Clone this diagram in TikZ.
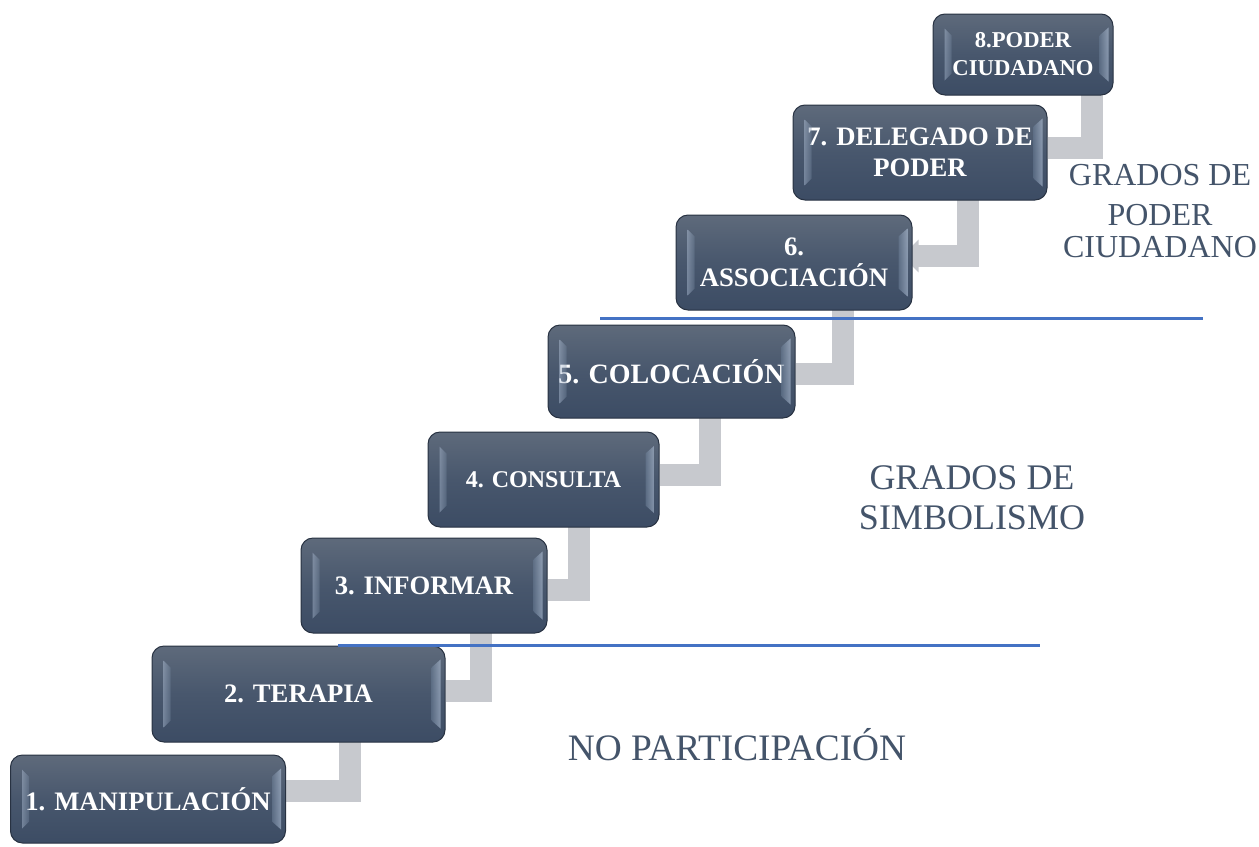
\documentclass[tikz,border=0pt]{standalone}
\usepackage{fontspec}
\setmainfont{Liberation Serif}
\usetikzlibrary{arrows.meta,backgrounds,calc}

\definecolor{stairgray}{RGB}{199,201,206}
\definecolor{divblue}{RGB}{68,114,196}
\definecolor{slatetext}{RGB}{68,84,106}
\definecolor{boxtop}{RGB}{94,106,123}
\definecolor{boxmid}{RGB}{72,87,109}
\definecolor{boxbot}{RGB}{60,76,100}
\definecolor{boxline}{RGB}{40,50,66}
\definecolor{bevelhi}{RGB}{190,206,228}
\definecolor{bevello}{RGB}{110,128,152}

\tikzset{every picture/.style={line width=0.75pt}}
\tikzset{
  stepbox/.style={draw=boxline, rounded corners=9pt, top color=boxtop, bottom color=boxbot, middle color=boxmid,
    text=white, align=center, inner sep=0pt, font=\bfseries\fontsize{20}{23}\selectfont},
  sized/.style 2 args={minimum width=#1*0.75pt, minimum height=#2*0.75pt},
  riser/.style={draw=stairgray, line width=17pt},
  gradetext/.style={text=slatetext, align=center, inner sep=0pt},
  divider/.style={draw=divblue, line width=2.25pt},
}

\begin{document}
\begin{tikzpicture}[x=0.75pt,y=0.75pt,yscale=-1,xscale=1]
\useasboundingbox (0,0) rectangle (1259,846);

% Steps
\node[stepbox, sized={275}{88}] (b1) at (148,799) {1. MANIPULACIÓN};
\node[stepbox, sized={293}{96}] (b2) at (298.5,694) {2. TERAPIA};
\node[stepbox, sized={246}{95}] (b3) at (424,585.5) {3. INFORMAR};
\node[stepbox, sized={231}{95}, font=\bfseries\fontsize{18}{22}\selectfont] (b4) at (543.5,479.5) {4. CONSULTA};
\node[stepbox, sized={247}{93}, font=\bfseries\fontsize{21}{24}\selectfont] (b5) at (671.5,371.5) {5. COLOCACIÓN};
\node[stepbox, sized={236}{95}] (b6) at (794,262.5) {6.\\ASSOCIACIÓN};
\node[stepbox, sized={254}{95}] (b7) at (920,152.5) {7. DELEGADO DE\\PODER};
\node[stepbox, sized={180}{81}, font=\bfseries\fontsize{17}{21}\selectfont] (b8) at (1023,54.5) {8.PODER\\CIUDADANO};

% Bevel highlights
\foreach \n in {b1,b2,b3,b4,b5,b6,b7,b8} {
  \shade[left color=bevelhi, right color=bevello, opacity=0.4]
    ($(\n.north west)+(12,15)$) -- ($(\n.north west)+(19,22)$) -- ($(\n.south west)+(19,-22)$) -- ($(\n.south west)+(12,-15)$) -- cycle;
  \shade[left color=bevello, right color=bevelhi, opacity=0.55]
    ($(\n.north east)+(-14,22)$) -- ($(\n.north east)+(-5,14)$) -- ($(\n.south east)+(-5,-14)$) -- ($(\n.south east)+(-14,-22)$) -- cycle;
}

% Stair connectors
\begin{scope}[on background layer]
\foreach \hi/\lo/\dx/\dy in {b8/b7/69/-4.5, b6/b5/49/2.5, b5/b4/38.5/-4.5, b4/b3/35.5/4.5, b3/b2/57/-3, b2/b1/51.5/-8}
  \draw[riser] (\hi.center) ++(\dx,0) |- ($(\lo.east)+(0,\dy)$);
\draw[riser, -{Triangle[width=24pt,length=12pt]}] (b7.center) ++(48,0) |- ($(b6.east)+(-10,-6.5)$);
\end{scope}

% Dividers
\draw[divider] (600,318) -- (1203,318);
\draw[divider] (338,645) -- (1040,645);

% Labels
\node[gradetext, font=\fontsize{24}{30}\selectfont] (lblpoder) at (1160,211) {GRADOS DE\\PODER\\[-6pt]CIUDADANO};
\node[gradetext, font=\fontsize{27}{30}\selectfont] (lblsimb) at (972,498) {GRADOS DE\\SIMBOLISMO};
\node[gradetext, font=\fontsize{28}{34}\selectfont] (lblno) at (737,745) {NO PARTICIPACIÓN};

\end{tikzpicture}
\end{document}
